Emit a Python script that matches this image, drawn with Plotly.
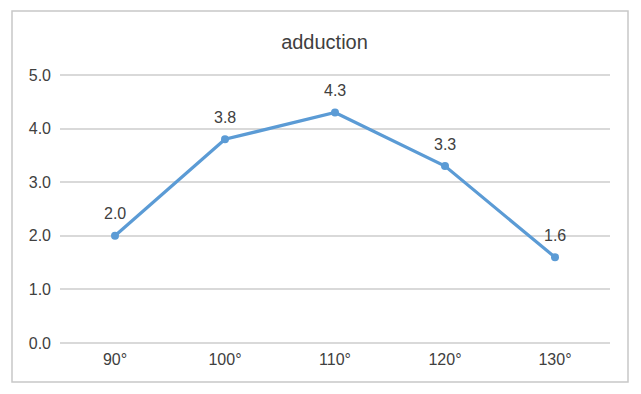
import plotly.graph_objects as go

categories = ["90°", "100°", "110°", "120°", "130°"]
values = [2.0, 3.8, 4.3, 3.3, 1.6]
y_ticks = [0, 1, 2, 3, 4, 5]
y_tick_labels = ["0.0", "1.0", "2.0", "3.0", "4.0", "5.0"]
title_text = "adduction"

# page body has an 8px margin, so the figure is drawn at (8, 8)
OFF = 8
W, H = 641 - OFF, 394 - OFF
PAD_PX = 2
ml, mr, mt, mb = 60 - OFF, 31, 75 - OFF - PAD_PX, 51 - PAD_PX
pw, ph = W - ml - mr, H - mt - mb
pad_units = PAD_PX * 5 / (ph - 2 * PAD_PX)

font_family = "Liberation Sans, Arial, sans-serif"
text_color = "#404040"
grid_color = "#d9d9d9"

fig = go.Figure()
fig.add_trace(go.Scatter(
    x=categories, y=values, mode="lines+markers",
    line=dict(color="#5B9BD5", width=3.2),
    marker=dict(color="#5B9BD5", size=8),
    hoverinfo="skip", showlegend=False, cliponaxis=False,
))

for c, v in zip(categories, values):
    fig.add_annotation(x=c, y=v, text=f"{v:.1f}", showarrow=False,
                       yshift=22, font=dict(size=16, color=text_color, family=font_family))

def px_x(p):
    return (p - OFF - ml) / pw

def px_y(p):
    return (H - mb - (p - OFF)) / ph

fig.add_shape(type="rect", xref="paper", yref="paper",
              x0=px_x(12), x1=px_x(628), y0=px_y(382), y1=px_y(11),
              line=dict(color="#c8c8c8", width=1.5), fillcolor="rgba(0,0,0,0)", layer="below")

fig.update_layout(
    width=W, height=H,
    margin=dict(l=ml, r=mr, t=mt, b=mb),
    paper_bgcolor="white", plot_bgcolor="white",
    title=dict(text=title_text, x=0.5, xanchor="center", y=1 - (42 - OFF) / H, yanchor="middle",
               font=dict(size=20, color=text_color, family=font_family)),
    font=dict(family=font_family, color=text_color, size=16),
    xaxis=dict(type="category", range=[-0.5, 4.5], showgrid=False, showline=False,
               zeroline=False, ticks="", ticklabelstandoff=3,
               tickfont=dict(size=16, color=text_color)),
    yaxis=dict(range=[-pad_units, 5 + pad_units], tickvals=y_ticks, ticktext=y_tick_labels,
               showgrid=True, gridcolor=grid_color, gridwidth=1.5, zeroline=True,
               zerolinecolor=grid_color, zerolinewidth=1.5, showline=False,
               ticks="", ticklabelstandoff=8, tickfont=dict(size=16, color=text_color)),
)

fig.write_html("out.html")
